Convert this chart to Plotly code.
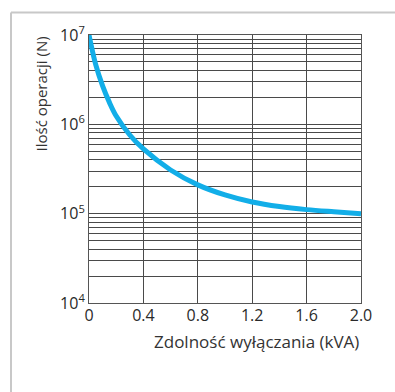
import plotly.graph_objects as go

# Switching capacity (kVA) vs. number of operations (N)
capacity_kva = [0, 0.05, 0.1, 0.15, 0.2, 0.3, 0.4, 0.6, 0.8, 1.0, 1.2, 1.4, 1.6, 1.8, 2.0]
operations = [1.0e7, 4.62e6, 2.69e6, 1.76e6, 1.24e6, 7.6e5, 5.3e5, 3.08e5, 2.1e5,
              1.62e5, 1.35e5, 1.2e5, 1.11e5, 1.05e5, 1.0e5]

x_ticks = [0, 0.4, 0.8, 1.2, 1.6, 2.0]
x_tick_labels = ["0", "0.4", "0.8", "1.2", "1.6", "2.0"]
decades = [4, 5, 6, 7]
x_title = "Zdolność wyłączania (kVA)"
y_title = "Ilość operacji (N)"

W, H = 395, 392
L, R, T, B = 89, 361, 35, 303  # plot area in pixels

def px_x(p):
    return (p - L) / (R - L)

def px_y(p):
    return (B - p) / (B - T)

# log grid: every 1..9 x 10^n, labelled only at powers of ten
y_vals, y_text = [], []
for d in decades:
    for k in range(1, 10):
        if d == decades[-1] and k > 1:
            break
        y_vals.append(k * 10 ** d)
        y_text.append(f"10<sup>{d}</sup>" if k == 1 else "")

font_family = "Open Sans, Lato, DejaVu Sans, sans-serif"

fig = go.Figure()
fig.add_trace(go.Scatter(
    x=capacity_kva, y=operations, mode="lines",
    line=dict(color="#12aee8", width=5, shape="spline", smoothing=1.0),
    hoverinfo="skip", showlegend=False, cliponaxis=True,
))

grid = "#4a4a4a"
fig.update_layout(
    width=W, height=H,
    margin=dict(l=L, r=W - R, t=T, b=H - B, pad=0),
    paper_bgcolor="white", plot_bgcolor="white",
    font=dict(family=font_family, color="#2a2a2a"),
    xaxis=dict(
        range=[0, 2.0], tickvals=x_ticks, ticktext=x_tick_labels,
        showgrid=True, gridcolor=grid, gridwidth=1,
        showline=True, linecolor="#555", linewidth=1, mirror=True,
        ticks="", tickfont=dict(size=16, color="#2a2a2a"), zeroline=False,
        ticklabelstandoff=-2,
    ),
    yaxis=dict(
        type="log", range=[4, 7], tickvals=y_vals, ticktext=y_text,
        showgrid=True, gridcolor=grid, gridwidth=1,
        showline=True, linecolor="#555", linewidth=1, mirror=True,
        ticks="", tickfont=dict(size=16, color="#2a2a2a"), zeroline=False,
    ),
    annotations=[
        dict(text=x_title, xref="paper", yref="paper", x=px_x(361), y=px_y(341),
             xanchor="right", yanchor="middle", showarrow=False,
             font=dict(size=17, color="#333", family=font_family)),
        dict(text=y_title, xref="paper", yref="paper", x=px_x(40), y=px_y(35),
             xanchor="center", yanchor="top", textangle=-90, showarrow=False,
             font=dict(size=15, color="#333", family=font_family)),
    ],
    shapes=[
        dict(type="line", xref="paper", yref="paper",
             x0=px_x(11), x1=px_x(400), y0=px_y(12.5), y1=px_y(12.5),
             line=dict(color="#c8c8c8", width=2)),
        dict(type="line", xref="paper", yref="paper",
             x0=px_x(11), x1=px_x(11), y0=px_y(12.5), y1=px_y(400),
             line=dict(color="#c8c8c8", width=2)),
    ],
)

fig.write_html("out.html")
